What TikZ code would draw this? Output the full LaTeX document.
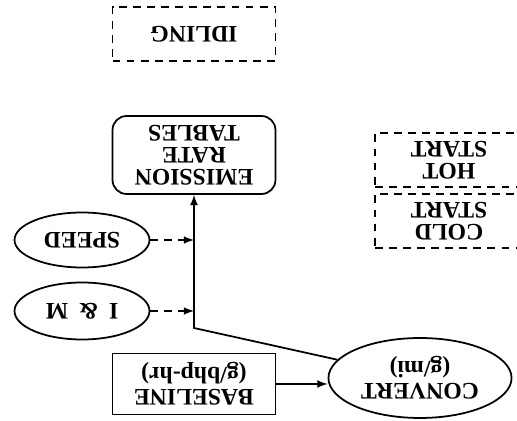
\documentclass[tikz,border=0pt]{standalone}
\usepackage{fontspec}
\setmainfont{Liberation Serif}
\usetikzlibrary{arrows,shapes,positioning,calc}

\begin{document}
\begin{tikzpicture}[
    x=0.02cm, y=-0.02cm,
    every node/.style={rotate=180, align=center, font=\fontsize{13.5}{12.5}\selectfont\bfseries},
    solidbox/.style={draw, line width=1pt, minimum width=3.26cm, minimum height=1.22cm},
    dashbox/.style={draw, line width=0.9pt, dash pattern=on 4.5pt off 3.5pt, minimum width=3.26cm, minimum height=1.08cm},
    oval/.style={draw, line width=1pt, ellipse, minimum width=2.7cm, minimum height=1.1cm},
    arrow/.style={-latex, line width=1pt},
    dasharrow/.style={-latex, line width=1pt, dash pattern=on 4.5pt off 3.5pt}
]
\useasboundingbox (0,0) rectangle (517,421);

\node[dashbox] (idling) at (194,34) {IDLING};
\node[solidbox, rounded corners=8pt, minimum height=1.56cm] (emission) at (194,155) {EMISSION\\RATE\\TABLES};

\node[dashbox, minimum width=2.96cm] (hot) at (449,160) {HOT\\START};
\node[dashbox, minimum width=2.96cm] (cold) at (449,221) {COLD\\START};

\node[oval] (speed) at (82,240) {SPEED};
\node[oval, minimum height=1.14cm] (im) at (82,311) {I\hspace{0.45em}\&\hspace{0.45em}M};

\node[oval, minimum width=3.66cm, minimum height=1.6cm] (convert) at (420,378) {CONVERT\\(g/mi)};
\node[solidbox] (baseline) at (194,384) {BASELINE\\(g/bhp-hr)};

\coordinate (bend) at (194,328);

% nodes are turned over, so west is on the right and east on the left
\draw[arrow] (baseline.west) -- (baseline.west -| convert.east);
\draw[arrow] (convert) -- (bend) -- (emission);
\draw[dasharrow] (speed) -- (speed -| bend);
\draw[dasharrow] (im) -- (im -| bend);

\end{tikzpicture}
\end{document}
